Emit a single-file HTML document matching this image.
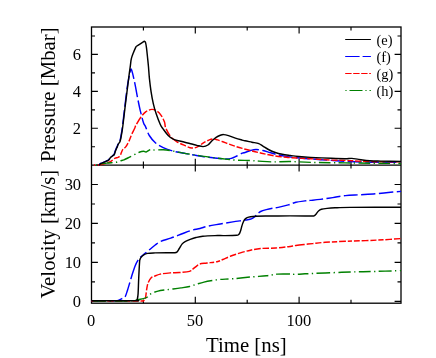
<!DOCTYPE html>
<html><head><meta charset="utf-8"><title>Chart</title>
<style>html,body{margin:0;padding:0;background:#fff}svg{display:block;will-change:transform}</style></head>
<body>
<svg width="436" height="358" viewBox="0 0 436 358">
<rect width="436" height="358" fill="#fff"/>
<defs><clipPath id="c1"><rect x="90.75" y="27.00" width="311.00" height="138.90"/></clipPath><clipPath id="c2"><rect x="90.75" y="165.10" width="311.00" height="138.10"/></clipPath></defs>
<g stroke="#000" stroke-width="1.3" fill="none">
<rect x="91.50" y="27.00" width="309.50" height="276.20"/>
<path d="M91.50 165.10H401.00"/>
</g>
<g stroke="#000" stroke-width="1.15" fill="none">
<path d="M195.30 27.00v6.40M195.30 165.10v-6.40M195.30 165.10v6.40M195.30 303.20v-6.40M299.10 27.00v6.40M299.10 165.10v-6.40M299.10 165.10v6.40M299.10 303.20v-6.40M143.40 27.00v3.50M143.40 165.10v-3.50M143.40 165.10v3.50M143.40 303.20v-3.50M247.20 27.00v3.50M247.20 165.10v-3.50M247.20 165.10v3.50M247.20 303.20v-3.50M351.00 27.00v3.50M351.00 165.10v-3.50M351.00 165.10v3.50M351.00 303.20v-3.50M91.50 146.74h3.50M401.00 146.74h-3.50M91.50 128.28h6.40M401.00 128.28h-6.40M91.50 109.82h3.50M401.00 109.82h-3.50M91.50 91.36h6.40M401.00 91.36h-6.40M91.50 72.90h3.50M401.00 72.90h-3.50M91.50 54.44h6.40M401.00 54.44h-6.40M91.50 35.98h3.50M401.00 35.98h-3.50M91.50 301.40h6.40M401.00 301.40h-6.40M91.50 281.91h3.50M401.00 281.91h-3.50M91.50 262.42h6.40M401.00 262.42h-6.40M91.50 242.93h3.50M401.00 242.93h-3.50M91.50 223.44h6.40M401.00 223.44h-6.40M91.50 203.95h3.50M401.00 203.95h-3.50M91.50 184.46h6.40M401.00 184.46h-6.40"/>
</g>
<g clip-path="url(#c1)" fill="none" stroke-width="1.45" stroke-linejoin="round">
<path d="M97.10 165.10 C97.40 165.07 98.32 165.17 98.90 164.90 C99.48 164.63 99.87 163.92 100.60 163.50 C101.33 163.08 102.38 162.80 103.30 162.40 C104.22 162.00 105.23 161.50 106.10 161.10 C106.97 160.70 107.82 160.58 108.50 160.00 C109.18 159.42 109.63 158.23 110.20 157.60 C110.77 156.97 111.27 156.72 111.90 156.20 C112.53 155.68 113.48 155.30 114.00 154.50 C114.52 153.70 114.65 152.37 115.00 151.40 C115.35 150.43 115.75 149.50 116.10 148.70 C116.45 147.90 116.78 147.37 117.10 146.60 C117.42 145.83 117.53 145.05 118.00 144.10 C118.47 143.15 119.37 142.48 119.90 140.90 C120.43 139.32 120.78 136.92 121.20 134.60 C121.62 132.28 121.80 131.62 122.40 127.00 C123.00 122.38 123.98 113.60 124.80 106.90 C125.62 100.20 126.57 91.95 127.30 86.80 C128.03 81.65 128.68 78.72 129.20 76.00 C129.72 73.28 130.05 71.63 130.40 70.50 C130.75 69.37 130.93 68.72 131.30 69.20 C131.67 69.68 131.95 70.75 132.60 73.40 C133.25 76.05 134.35 80.92 135.20 85.10 C136.05 89.28 136.87 94.30 137.70 98.50 C138.53 102.70 139.23 106.25 140.20 110.30 C141.17 114.35 142.62 120.08 143.50 122.80 C144.38 125.52 144.53 124.48 145.50 126.60 C146.47 128.72 147.62 132.77 149.30 135.50 C150.98 138.23 153.28 140.98 155.60 143.00 C157.92 145.02 160.27 146.25 163.20 147.60 C166.13 148.95 169.42 150.10 173.20 151.10 C176.98 152.10 182.18 152.90 185.90 153.60 C189.62 154.30 192.52 154.78 195.50 155.30 C198.48 155.82 200.58 156.25 203.80 156.70 C207.02 157.15 211.13 157.62 214.80 158.00 C218.47 158.38 223.05 158.93 225.80 159.00 C228.55 159.07 229.47 158.90 231.30 158.40 C233.13 157.90 234.97 156.87 236.80 156.00 C238.63 155.13 240.93 153.78 242.30 153.20 C243.67 152.62 243.63 152.95 245.00 152.50 C246.37 152.05 248.67 151.00 250.50 150.50 C252.33 150.00 253.93 149.50 256.00 149.50 C258.07 149.50 260.60 150.00 262.90 150.50 C265.20 151.00 267.50 151.82 269.80 152.50 C272.10 153.18 273.95 153.95 276.70 154.60 C279.45 155.25 282.87 155.87 286.30 156.40 C289.73 156.93 293.25 157.38 297.30 157.80 C301.35 158.22 304.93 158.47 310.60 158.90 C316.27 159.33 325.57 160.00 331.30 160.40 C337.03 160.80 338.13 161.00 345.00 161.30 C351.87 161.60 363.17 162.02 372.50 162.20 C381.83 162.38 396.25 162.37 401.00 162.40" stroke="#0000ff" stroke-dasharray="0.00 0.71 13.90 3.40 13.90 3.40 13.90 3.40 13.90 3.40 13.90 3.40 13.90 3.40 13.90 3.40 15.18 3.40 14.43 3.40 12.61 3.40 13.83 3.40 14.39 3.40 13.22 3.40 13.22 3.40 13.22 3.40 13.22 3.40 19.15 3.40 13.90 3.40 13.90 3.40 13.90 3.40 13.90 3.40 13.90 3.40 13.90 3.40 13.90 3.40 13.90 3.40 51.71 0.01"/>
<path d="M97.60 165.10 C98.50 164.97 101.30 164.72 103.00 164.30 C104.70 163.88 106.55 163.05 107.80 162.60 C109.05 162.15 109.58 162.12 110.50 161.60 C111.42 161.08 112.50 160.08 113.30 159.50 C114.10 158.92 114.50 158.45 115.30 158.10 C116.10 157.75 117.28 157.82 118.10 157.40 C118.92 156.98 119.63 156.47 120.20 155.60 C120.77 154.73 121.05 153.23 121.50 152.20 C121.95 151.17 122.17 150.33 122.90 149.40 C123.63 148.47 124.87 148.02 125.90 146.60 C126.93 145.18 128.15 142.90 129.10 140.90 C130.05 138.90 130.67 136.70 131.60 134.60 C132.53 132.50 133.97 129.90 134.70 128.30 C135.43 126.70 134.95 126.88 136.00 125.00 C137.05 123.12 139.33 119.23 141.00 117.00 C142.67 114.77 144.18 112.87 146.00 111.60 C147.82 110.33 150.08 109.48 151.90 109.40 C153.72 109.32 155.37 110.12 156.90 111.10 C158.43 112.08 159.83 113.48 161.10 115.30 C162.37 117.12 163.73 119.90 164.50 122.00 C165.27 124.10 164.67 125.45 165.70 127.90 C166.73 130.35 168.82 134.38 170.70 136.70 C172.58 139.02 174.47 140.25 177.00 141.80 C179.53 143.35 183.73 145.02 185.90 146.00 C188.07 146.98 188.63 147.37 190.00 147.70 C191.37 148.03 192.72 148.23 194.10 148.00 C195.48 147.77 196.68 147.20 198.30 146.30 C199.92 145.40 201.97 143.67 203.80 142.60 C205.63 141.53 207.70 140.50 209.30 139.90 C210.90 139.30 212.03 139.00 213.40 139.00 C214.77 139.00 215.43 139.25 217.50 139.90 C219.57 140.55 223.05 141.90 225.80 142.90 C228.55 143.90 231.25 144.98 234.00 145.90 C236.75 146.82 239.32 147.57 242.30 148.40 C245.28 149.23 248.70 150.10 251.90 150.90 C255.10 151.70 258.07 152.43 261.50 153.20 C264.93 153.97 268.37 154.82 272.50 155.50 C276.63 156.18 282.17 156.88 286.30 157.30 C290.43 157.72 293.25 157.77 297.30 158.00 C301.35 158.23 304.93 158.35 310.60 158.70 C316.27 159.05 325.57 159.82 331.30 160.10 C337.03 160.38 340.42 160.23 345.00 160.40 C349.58 160.57 353.07 160.87 358.80 161.10 C364.53 161.33 372.37 161.68 379.40 161.80 C386.43 161.92 397.40 161.80 401.00 161.80" stroke="#ff0000" stroke-dasharray="0.09 1.90 6.10 1.90 6.10 1.90 6.10 1.90 6.10 1.90 6.10 1.90 6.10 1.90 9.25 1.90 8.29 1.90 6.70 1.90 7.15 1.90 7.30 1.90 8.91 1.90 7.87 1.90 9.09 1.90 6.06 1.90 5.61 1.90 5.25 1.90 5.09 1.90 5.53 1.90 5.79 1.90 6.10 1.90 6.10 1.90 6.10 1.90 6.10 1.90 6.10 1.90 6.10 1.90 6.10 1.90 6.10 1.90 6.10 1.90 6.10 1.90 6.10 1.90 6.10 1.90 6.10 1.90 6.10 1.90 6.10 1.90 6.10 1.90 6.10 1.90 6.10 1.90 6.10 1.90 6.10 1.90 6.10 1.90 6.10 1.90 56.08 0.01"/>
<path d="M98.60 165.10 C98.98 164.90 99.37 164.25 100.90 163.90 C102.43 163.55 105.85 163.22 107.80 163.00 C109.75 162.78 111.17 162.73 112.60 162.60 C114.03 162.47 115.08 162.48 116.40 162.20 C117.72 161.92 119.23 161.30 120.50 160.90 C121.77 160.50 122.78 160.28 124.00 159.80 C125.22 159.32 126.12 158.83 127.80 158.00 C129.48 157.17 132.20 155.75 134.10 154.80 C136.00 153.85 137.62 152.88 139.20 152.30 C140.78 151.72 142.45 151.35 143.60 151.30 C144.75 151.25 145.03 152.25 146.10 152.00 C147.17 151.75 148.83 150.12 150.00 149.80 C151.17 149.48 150.90 150.10 153.10 150.10 C155.30 150.10 159.85 149.63 163.20 149.80 C166.55 149.97 169.85 150.55 173.20 151.10 C176.55 151.65 179.58 152.45 183.30 153.10 C187.02 153.75 192.08 154.45 195.50 155.00 C198.92 155.55 200.58 155.93 203.80 156.40 C207.02 156.87 211.13 157.35 214.80 157.80 C218.47 158.25 222.13 158.70 225.80 159.10 C229.47 159.50 232.77 159.97 236.80 160.20 C240.83 160.43 246.33 160.35 250.00 160.50 C253.67 160.65 255.05 160.87 258.80 161.10 C262.55 161.33 267.30 161.83 272.50 161.90 C277.70 161.97 283.65 161.42 290.00 161.50 C296.35 161.58 301.43 162.17 310.60 162.40 C319.77 162.63 329.93 162.72 345.00 162.90 C360.07 163.08 391.67 163.40 401.00 163.50" stroke="#008000" stroke-dasharray="0.00 2.65 11.70 3.40 1.30 3.40 11.76 3.40 1.30 3.40 12.57 3.40 1.30 3.40 11.59 3.40 1.30 3.40 12.27 3.40 1.30 3.40 12.19 3.40 1.30 3.40 12.19 3.40 1.30 3.40 11.75 3.40 1.30 3.40 13.37 3.40 1.30 3.40 11.70 3.40 1.30 3.40 11.70 3.40 1.30 3.40 11.70 3.40 1.30 3.40 11.70 3.40 1.30 3.40 11.70 3.40 1.30 3.40 11.70 3.40 1.30 3.40 53.02 0.01"/>
<path d="M97.40 165.10 C97.70 165.07 98.62 165.17 99.20 164.90 C99.78 164.63 100.17 163.92 100.90 163.50 C101.63 163.08 102.68 162.80 103.60 162.40 C104.52 162.00 105.53 161.50 106.40 161.10 C107.27 160.70 108.12 160.58 108.80 160.00 C109.48 159.42 109.93 158.23 110.50 157.60 C111.07 156.97 111.57 156.72 112.20 156.20 C112.83 155.68 113.78 155.30 114.30 154.50 C114.82 153.70 114.95 152.37 115.30 151.40 C115.65 150.43 116.05 149.50 116.40 148.70 C116.75 147.90 117.08 147.37 117.40 146.60 C117.72 145.83 117.83 145.05 118.30 144.10 C118.77 143.15 119.67 142.48 120.20 140.90 C120.73 139.32 121.08 136.92 121.50 134.60 C121.92 132.28 122.10 131.62 122.70 127.00 C123.30 122.38 124.28 113.60 125.10 106.90 C125.92 100.20 126.90 92.38 127.60 86.80 C128.30 81.22 128.83 76.97 129.30 73.40 C129.77 69.83 130.07 67.82 130.40 65.40 C130.73 62.98 130.80 61.02 131.30 58.90 C131.80 56.78 132.60 54.77 133.40 52.70 C134.20 50.63 135.65 47.53 136.10 46.50 C136.80 46.05 138.92 44.68 140.30 43.80 C141.68 42.92 143.72 41.63 144.40 41.20 C144.58 41.40 145.15 41.28 145.50 42.40 C145.85 43.52 146.17 45.47 146.50 47.90 C146.83 50.33 147.17 53.82 147.50 57.00 C147.83 60.18 148.18 63.43 148.50 67.00 C148.82 70.57 148.97 74.27 149.40 78.40 C149.83 82.53 150.45 87.60 151.10 91.80 C151.75 96.00 152.47 99.97 153.30 103.60 C154.13 107.23 154.93 110.12 156.10 113.60 C157.27 117.08 159.12 121.92 160.30 124.50 C161.48 127.08 161.88 127.27 163.20 129.10 C164.52 130.93 166.53 133.82 168.20 135.50 C169.87 137.18 171.10 138.23 173.20 139.20 C175.30 140.17 177.92 140.55 180.80 141.30 C183.68 142.05 187.82 143.02 190.50 143.70 C193.18 144.38 194.80 144.92 196.90 145.40 C199.00 145.88 201.27 146.67 203.10 146.60 C204.93 146.53 206.42 145.97 207.90 145.00 C209.38 144.03 210.63 142.07 212.00 140.80 C213.37 139.53 214.72 138.32 216.10 137.40 C217.48 136.48 219.03 135.77 220.30 135.30 C221.57 134.83 222.33 134.55 223.70 134.60 C225.07 134.65 226.55 135.02 228.50 135.60 C230.45 136.18 233.10 137.35 235.40 138.10 C237.70 138.85 240.70 139.65 242.30 140.10 C243.90 140.55 243.40 140.45 245.00 140.80 C246.60 141.15 249.60 141.73 251.90 142.20 C254.20 142.67 256.97 142.95 258.80 143.60 C260.63 144.25 261.30 145.12 262.90 146.10 C264.50 147.08 266.33 148.43 268.40 149.50 C270.47 150.57 273.00 151.70 275.30 152.50 C277.60 153.30 279.68 153.80 282.20 154.30 C284.72 154.80 287.65 155.13 290.40 155.50 C293.15 155.87 295.33 156.18 298.70 156.50 C302.07 156.82 305.17 157.10 310.60 157.40 C316.03 157.70 325.57 158.08 331.30 158.30 C337.03 158.52 341.57 158.68 345.00 158.70 C348.43 158.72 349.60 158.28 351.90 158.40 C354.20 158.52 355.82 159.02 358.80 159.40 C361.78 159.78 366.13 160.42 369.80 160.70 C373.47 160.98 375.60 160.97 380.80 161.10 C386.00 161.23 397.63 161.43 401.00 161.50" stroke="#000"/>
</g>
<g clip-path="url(#c2)" fill="none" stroke-width="1.45" stroke-linejoin="round">
<path d="M91.35 300.90 C95.12 300.90 109.56 300.97 114.00 300.90 C118.44 300.83 116.75 300.85 118.00 300.50 C119.25 300.15 120.33 299.38 121.50 298.80 C122.67 298.22 124.00 298.43 125.00 297.00 C126.00 295.57 126.67 292.72 127.50 290.20 C128.33 287.68 129.17 284.68 130.00 281.90 C130.83 279.12 131.65 276.17 132.50 273.50 C133.35 270.83 134.25 268.00 135.10 265.90 C135.95 263.80 136.63 262.43 137.60 260.90 C138.57 259.37 139.65 257.95 140.90 256.70 C142.15 255.45 143.57 254.65 145.10 253.40 C146.63 252.15 148.42 250.60 150.10 249.20 C151.78 247.80 153.45 246.30 155.20 245.00 C156.95 243.70 158.02 242.55 160.60 241.40 C163.18 240.25 167.33 239.28 170.70 238.10 C174.07 236.92 177.43 235.57 180.80 234.30 C184.17 233.03 187.70 231.47 190.90 230.50 C194.10 229.53 197.22 229.22 200.00 228.50 C202.78 227.78 204.23 226.95 207.60 226.20 C210.97 225.45 216.00 224.72 220.20 224.00 C224.40 223.28 228.57 222.57 232.80 221.90 C237.03 221.23 242.50 220.50 245.60 220.00 C248.70 219.50 249.87 219.45 251.40 218.90 C252.93 218.35 253.82 217.50 254.80 216.70 C255.78 215.90 256.33 214.97 257.30 214.10 C258.27 213.23 259.10 212.25 260.60 211.50 C262.10 210.75 264.30 210.15 266.30 209.60 C268.30 209.05 270.62 208.57 272.60 208.20 C274.58 207.83 275.58 207.95 278.20 207.40 C280.82 206.85 285.35 205.75 288.30 204.90 C291.25 204.05 293.12 202.97 295.90 202.30 C298.68 201.63 302.63 201.22 305.00 200.90 C307.37 200.58 307.57 200.65 310.10 200.40 C312.63 200.15 316.42 199.87 320.20 199.40 C323.98 198.93 328.60 198.23 332.80 197.60 C337.00 196.97 340.78 196.08 345.40 195.60 C350.02 195.12 355.45 195.02 360.50 194.70 C365.55 194.38 371.07 194.07 375.70 193.70 C380.33 193.33 384.08 192.88 388.30 192.50 C392.52 192.12 398.88 191.58 401.00 191.40" stroke="#0000ff" stroke-dasharray="0.00 0.06 14.00 3.40 14.00 3.40 15.11 3.40 20.59 3.40 8.07 3.40 11.18 3.40 13.77 3.40 13.67 3.40 13.03 3.40 14.07 3.40 14.80 3.40 13.46 3.40 14.65 3.40 14.12 3.40 13.71 3.40 13.79 3.40 14.15 3.40 13.81 3.40 14.25 3.40 14.67 3.40 54.49 0.01"/>
<path d="M91.35 300.90 C99.29 300.90 130.46 300.90 139.00 300.90 C147.54 300.90 141.58 301.13 142.60 300.90 C143.62 300.67 144.55 300.43 145.10 299.50 C145.65 298.57 145.62 297.12 145.90 295.30 C146.18 293.48 146.42 290.72 146.80 288.60 C147.18 286.48 147.43 284.43 148.20 282.60 C148.97 280.77 150.38 278.65 151.40 277.60 C152.42 276.55 152.83 276.88 154.30 276.30 C155.77 275.72 157.53 274.67 160.20 274.10 C162.87 273.53 167.10 273.17 170.30 272.90 C173.50 272.63 176.20 272.75 179.40 272.50 C182.60 272.25 187.35 271.90 189.50 271.40 C191.65 270.90 191.07 270.43 192.30 269.50 C193.53 268.57 195.68 266.72 196.90 265.80 C198.12 264.88 197.92 264.47 199.60 264.00 C201.28 263.53 204.08 263.38 207.00 263.00 C209.92 262.62 214.47 262.28 217.10 261.70 C219.73 261.12 220.60 260.40 222.80 259.50 C225.00 258.60 227.37 257.40 230.30 256.30 C233.23 255.20 237.03 253.92 240.40 252.90 C243.77 251.88 247.13 250.93 250.50 250.20 C253.87 249.47 256.40 248.87 260.60 248.50 C264.80 248.13 271.08 248.30 275.70 248.00 C280.32 247.70 284.93 247.12 288.30 246.70 C291.67 246.28 293.12 245.88 295.90 245.50 C298.68 245.12 302.22 244.72 305.00 244.40 C307.78 244.08 309.23 243.95 312.60 243.60 C315.97 243.25 319.73 242.68 325.20 242.30 C330.67 241.92 338.67 241.58 345.40 241.30 C352.13 241.02 359.30 240.85 365.60 240.60 C371.90 240.35 377.30 240.13 383.20 239.80 C389.10 239.47 398.03 238.80 401.00 238.60" stroke="#ff0000" stroke-dasharray="6.08 1.90 6.30 1.90 6.30 1.90 6.30 1.90 6.30 1.90 6.30 1.90 6.30 1.90 6.30 1.90 6.30 1.90 6.96 1.90 7.47 1.90 7.98 1.90 7.74 1.90 8.90 1.90 7.16 1.90 8.02 1.90 4.31 1.90 4.31 1.90 7.09 1.90 6.56 1.90 7.01 1.90 5.80 1.90 6.82 1.90 6.30 1.90 6.20 1.90 6.28 1.90 6.07 1.90 9.76 1.90 7.03 1.90 6.26 1.90 6.66 1.90 5.06 1.90 6.86 1.90 4.09 1.90 5.77 1.90 6.89 1.90 6.13 1.90 5.36 1.90 6.52 1.90 6.30 1.90 50.00 0.01"/>
<path d="M91.35 300.90 C97.46 300.90 120.89 300.98 128.00 300.90 C135.11 300.82 132.27 300.63 134.00 300.40 C135.73 300.17 136.83 299.80 138.40 299.50 C139.97 299.20 141.87 299.02 143.40 298.60 C144.93 298.18 146.48 297.70 147.60 297.00 C148.72 296.30 149.07 295.15 150.10 294.40 C151.13 293.65 152.48 293.05 153.80 292.50 C155.12 291.95 156.17 291.52 158.00 291.10 C159.83 290.68 162.45 290.33 164.80 290.00 C167.15 289.67 169.40 289.45 172.10 289.10 C174.80 288.75 178.10 288.33 181.00 287.90 C183.90 287.47 186.85 287.13 189.50 286.50 C192.15 285.87 194.48 284.83 196.90 284.10 C199.32 283.37 201.40 282.70 204.00 282.10 C206.60 281.50 209.83 280.95 212.50 280.50 C215.17 280.05 216.53 279.70 220.00 279.40 C223.47 279.10 228.02 279.12 233.30 278.70 C238.58 278.28 246.18 277.38 251.70 276.90 C257.22 276.42 262.12 276.27 266.40 275.80 C270.68 275.33 273.73 274.40 277.40 274.10 C281.07 273.80 285.47 273.95 288.40 274.00 C291.33 274.05 292.23 274.43 295.00 274.40 C297.77 274.37 299.97 274.03 305.00 273.80 C310.03 273.57 317.62 273.30 325.20 273.00 C332.78 272.70 342.08 272.27 350.50 272.00 C358.92 271.73 367.28 271.63 375.70 271.40 C384.12 271.17 396.78 270.73 401.00 270.60" stroke="#008000" stroke-dasharray="0.00 2.13 12.90 3.40 1.30 3.40 12.90 3.40 1.30 3.40 12.90 3.40 1.30 3.40 10.29 3.40 1.30 3.40 17.91 3.40 1.30 3.40 14.89 3.40 1.30 3.40 8.36 3.40 1.30 3.40 13.09 3.40 1.30 3.40 10.40 3.40 1.30 3.40 13.60 3.40 1.30 3.40 10.61 3.40 1.30 3.40 13.80 3.40 1.30 3.40 12.30 3.40 1.30 3.40 11.85 3.40 1.30 3.40 12.73 3.40 1.30 3.40 51.48 0.01"/>
<path d="M91.35 300.80 C98.62 300.80 127.46 300.88 135.00 300.80 C142.54 300.72 136.22 300.57 136.60 300.30 C136.98 300.03 137.05 300.32 137.30 299.20 C137.55 298.08 137.87 297.05 138.10 293.60 C138.33 290.15 138.45 283.80 138.70 278.50 C138.95 273.20 139.37 265.02 139.60 261.80 C139.83 258.58 139.88 259.90 140.10 259.20 C140.32 258.50 140.35 258.28 140.90 257.60 C141.45 256.92 142.28 255.80 143.40 255.10 C144.52 254.40 145.63 253.77 147.60 253.40 C149.57 253.03 151.98 253.02 155.20 252.90 C158.42 252.78 163.65 252.72 166.90 252.70 C170.15 252.68 173.02 252.92 174.70 252.80 C176.38 252.68 176.23 252.72 177.00 252.00 C177.77 251.28 178.43 249.85 179.30 248.50 C180.17 247.15 181.23 245.05 182.20 243.90 C183.17 242.75 183.77 242.35 185.10 241.60 C186.43 240.85 188.38 240.08 190.20 239.40 C192.02 238.72 193.90 238.03 196.00 237.50 C198.10 236.97 199.63 236.52 202.80 236.20 C205.97 235.88 211.30 235.70 215.00 235.60 C218.70 235.50 221.35 235.67 225.00 235.60 C228.65 235.53 234.63 235.37 236.90 235.20 C239.17 235.03 238.13 234.95 238.60 234.60 C239.07 234.25 239.32 233.92 239.70 233.10 C240.08 232.28 240.52 230.95 240.90 229.70 C241.28 228.45 241.62 226.85 242.00 225.60 C242.38 224.35 242.72 223.25 243.20 222.20 C243.68 221.15 244.23 220.07 244.90 219.30 C245.57 218.53 246.25 218.03 247.20 217.60 C248.15 217.17 249.13 216.93 250.60 216.70 C252.07 216.47 253.58 216.32 256.00 216.20 C258.42 216.08 259.43 216.05 265.10 216.00 C270.77 215.95 283.35 215.92 290.00 215.90 C296.65 215.88 301.33 215.88 305.00 215.90 C308.67 215.92 310.50 216.00 312.00 216.00 C313.50 216.00 313.30 216.25 314.00 215.90 C314.70 215.55 315.45 214.72 316.20 213.90 C316.95 213.08 317.63 211.77 318.50 211.00 C319.37 210.23 319.97 209.73 321.40 209.30 C322.83 208.87 324.82 208.65 327.10 208.40 C329.38 208.15 331.28 207.97 335.10 207.80 C338.92 207.63 339.02 207.50 350.00 207.40 C360.98 207.30 392.50 207.23 401.00 207.20" stroke="#000"/>
</g>
<path d="M93.9 165.05H95.2M97.8 165.05H98.9" stroke="#ff0000" stroke-width="1.4"/><path d="M96 165.05H97" stroke="#008000" stroke-width="1.4"/>
<g font-family="'Liberation Serif', serif" fill="#000">
<g font-size="16px" text-anchor="end">
<text transform="translate(81.1 134.18) scale(1.03 1)">2</text>
<text transform="translate(81.1 97.26) scale(1.03 1)">4</text>
<text transform="translate(81.1 60.34) scale(1.03 1)">6</text>
<text transform="translate(81.1 307.00) scale(1.03 1)">0</text>
<text transform="translate(81.1 268.02) scale(1.03 1)">10</text>
<text transform="translate(81.1 229.04) scale(1.03 1)">20</text>
<text transform="translate(81.1 190.06) scale(1.03 1)">30</text>
</g>
<g font-size="16px" text-anchor="middle">
<text transform="translate(91.20 325.8) scale(1.03 1)">0</text>
<text transform="translate(195.00 325.8) scale(1.03 1)">50</text>
<text transform="translate(298.80 325.8) scale(1.03 1)">100</text>
</g>
<text font-size="20.2px" transform="translate(206.0 351.7) scale(1.03 1)">Time [ns]</text>
<text font-size="20.2px" transform="translate(54.6 161.9) rotate(-90) scale(1.03 1)">Pressure [Mbar]</text>
<text font-size="20.2px" transform="translate(54.6 298.6) rotate(-90) scale(1.03 1)">Velocity [km/s]</text>
<g font-size="14px">
<text transform="translate(376.5 44.70) scale(1.03 1)">(e)</text>
<text transform="translate(376.5 61.70) scale(1.03 1)">(f)</text>
<text transform="translate(376.5 78.70) scale(1.03 1)">(g)</text>
<text transform="translate(376.5 95.70) scale(1.03 1)">(h)</text>
</g>
</g>
<g fill="none" stroke-width="1">
<path d="M345.2 39.5H370.9" stroke="#000"/>
<path d="M345.2 56.5H370.9" stroke="#0000ff" stroke-dasharray="14.4 3"/>
<path d="M345.2 73.5H370.9" stroke="#ff0000" stroke-dasharray="6.4 1.6"/>
<path d="M345.2 90.5H370.9" stroke="#008000" stroke-dasharray="13 2.9 1.2 2.9" stroke-dashoffset="15.7"/>
</g>
</svg>
</body></html>
